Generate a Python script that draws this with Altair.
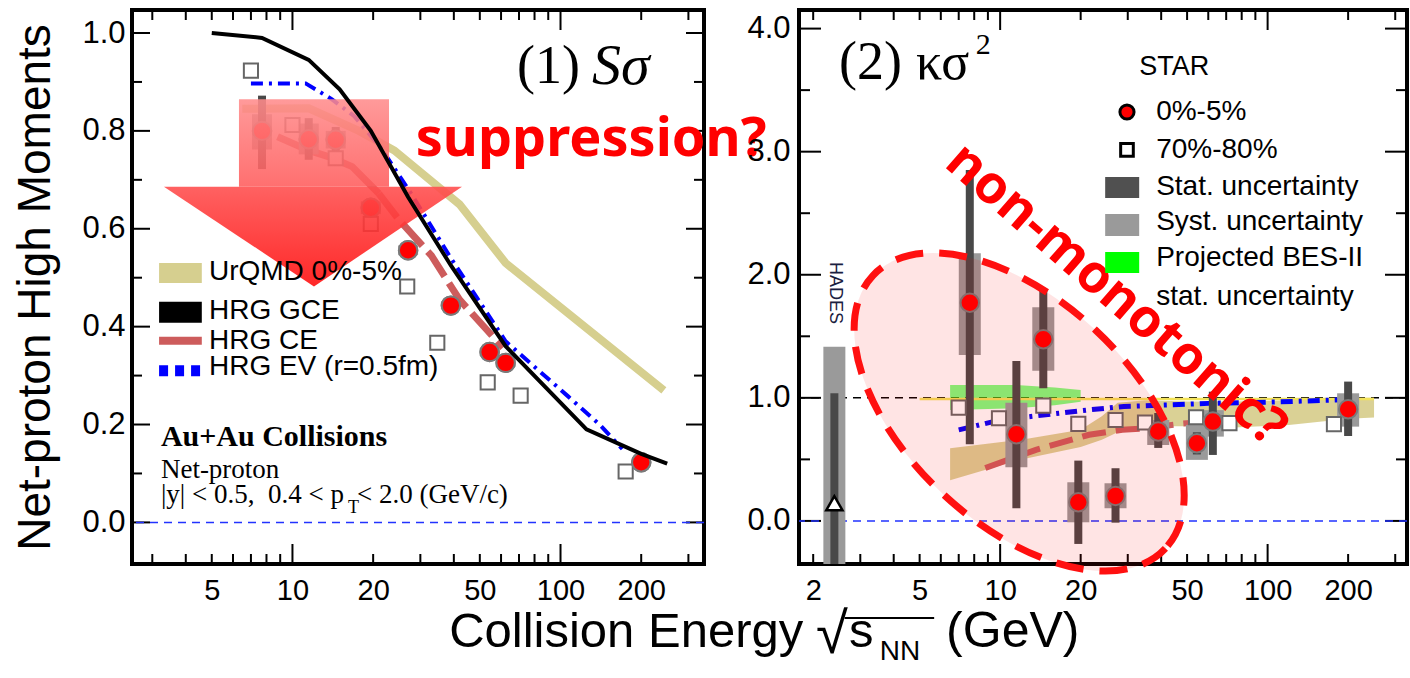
import altair as alt
import pandas as pd

# ------------------------------------------------------------------ data
energy = [7.7, 11.5, 14.5, 19.6, 27, 39, 54.4, 62.4, 200]

# panel (1)  S*sigma, 0-5% central
ss_c = [0.800, 0.783, 0.782, 0.643, 0.556, 0.443, 0.348, 0.326, 0.123]
ss_stat_lo = [0.722, 0.741, 0.758, 0.628, 0.546, 0.436, 0.340, 0.318, 0.118]
ss_stat_hi = [0.872, 0.826, 0.808, 0.660, 0.566, 0.450, 0.356, 0.334, 0.128]
ss_sys_lo = [0.762, 0.752, 0.764, 0.630, 0.546, 0.436, 0.340, 0.318, 0.118]
ss_sys_hi = [0.834, 0.815, 0.800, 0.656, 0.566, 0.450, 0.356, 0.334, 0.128]
# panel (1)  70-80% peripheral
ss_per_e = [7.0, 10.0, 14.5, 19.6, 26.8, 34.7, 53.5, 71, 175]
ss_per = [0.923, 0.812, 0.744, 0.610, 0.482, 0.367, 0.286, 0.259, 0.104]
# panel (1) models
urqmd1_e = [6.5, 11.5, 17.7, 24, 42, 62.4, 243]
urqmd1_v = [0.845, 0.846, 0.80, 0.76, 0.65, 0.53, 0.27]
gce1_e = [5, 7.7, 11.5, 15, 19.6, 27, 39, 62.4, 125, 200, 250]
gce1_v = [1.0, 0.99, 0.945, 0.885, 0.80, 0.665, 0.525, 0.36, 0.19, 0.14, 0.12]
ce1_e = [8.8, 11.5, 13.7, 16.7, 21, 25, 33, 42, 61]
ce1_v = [0.788, 0.76, 0.747, 0.727, 0.672, 0.618, 0.545, 0.455, 0.357]
ev1_e = [7, 11.2, 14, 17, 21.4, 28, 39, 62.4, 107, 140, 170]
ev1_v = [0.897, 0.897, 0.865, 0.83, 0.765, 0.668, 0.54, 0.37, 0.257, 0.2, 0.15]

# panel (2)  kappa*sigma^2, 0-5% central
kk_c = [1.773, 0.704, 1.476, 0.152, 0.203, 0.726, 0.631, 0.807, 0.907]
kk_stat_lo = [0.623, 0.103, 1.078, -0.187, -0.014, 0.593, 0.540, 0.536, 0.690]
kk_stat_hi = [2.851, 1.300, 1.877, 0.490, 0.428, 0.877, 0.720, 1.050, 1.132]
kk_sys_lo = [1.349, 0.436, 1.221, -0.011, 0.103, 0.617, 0.496, 0.685, 0.766]
kk_sys_hi = [2.175, 0.961, 1.736, 0.314, 0.306, 0.820, 0.780, 0.900, 1.037]
# panel (2)  70-80% peripheral
kk_per_e = [7.0, 9.9, 14.5, 19.6, 27, 34.8, 54, 72, 177]
kk_per = [0.920, 0.834, 0.937, 0.788, 0.820, 0.800, 0.842, 0.794, 0.786]
# HADES
hades_e = [2.4]
hades_v = [0.144]
hades_stat_lo = [-0.6]
hades_stat_hi = [1.037]
hades_sys_lo = [-0.6]
hades_sys_hi = [1.416]
# panel (2) models
urqmd2_e = [6.5, 12, 20, 24, 27.5, 35, 50, 75, 120, 200, 250]
urqmd2_hi = [0.59, 0.66, 0.74, 0.85, 0.96, 0.98, 0.97, 0.97, 0.98, 1.0, 1.0]
urqmd2_lo = [0.33, 0.50, 0.60, 0.66, 0.72, 0.77, 0.77, 0.76, 0.78, 0.83, 0.84]
bes2_e = [6.5, 11.5, 16, 20]
bes2_hi = [1.105, 1.105, 1.085, 1.064]
bes2_lo = [0.902, 0.915, 0.940, 0.969]
ce2_e = [8.8, 13.6, 21.5, 28.6, 36, 48, 62]
ce2_v = [0.43, 0.577, 0.70, 0.74, 0.755, 0.79, 0.81]
ev2_e = [7, 10, 14.5, 21, 29, 40, 60, 100, 200]
ev2_v = [0.74, 0.82, 0.86, 0.90, 0.93, 0.94, 0.955, 0.965, 0.985]
unity_e = [5, 250]
unity_v = [0.99, 0.99]

# axis ticks
x_major = [10, 100]
x_minor = [2, 3, 4, 5, 6, 7, 8, 9, 20, 30, 40, 50, 60, 70, 80, 90, 200, 300]
x_labels_1 = [5, 10, 20, 50, 100, 200]
x_labels_2 = [2, 5, 10, 20, 50, 100, 200]
y1_major = [0.0, 0.2, 0.4, 0.6, 0.8, 1.0]
y1_minor = [0.1, 0.3, 0.5, 0.7, 0.9]
y2_major = [0.0, 1.0, 2.0, 3.0, 4.0]
y2_minor = [0.5, 1.5, 2.5, 3.5]

# ------------------------------------------------------------------ setup
SANS = "Liberation Sans"
SERIF = "Liberation Serif"
BOLD = "Noto Sans"
W1, W2, H = 572, 608, 554
one = pd.DataFrame({"k": [0]})
NB = "\u00a0"

xs1 = alt.Scale(type="log", domain=[2.52, 343], nice=False)
ys1 = alt.Scale(domain=[-0.085, 1.047], nice=False, zero=False)
xs2 = alt.Scale(type="log", domain=[1.77, 332], nice=False)
ys2 = alt.Scale(domain=[-0.35, 4.151], nice=False, zero=False)

xaxis_common = dict(ticks=False, domain=False, grid=False, labelFontSize=29, labelPadding=12,
                    labelColor="black", labelFont=SANS, title=None, labelFlush=False, format="d")
yaxis_common = dict(ticks=False, domain=False, grid=False, labelFontSize=31,
                    labelColor="black", labelFont=SANS, format=".1f", labelFlush=False)

ax_x1 = alt.Axis(values=x_labels_1, **xaxis_common)
ax_y1 = alt.Axis(values=y1_major, labelPadding=7, title="Net-proton High Moments",
                 titleFontSize=46, titleFont=SANS, titleFontWeight="normal",
                 titleColor="black", titlePadding=22, **yaxis_common)
ax_x2 = alt.Axis(values=x_labels_2, **xaxis_common)
ax_y2 = alt.Axis(values=y2_major, labelPadding=9, title=None, **yaxis_common)

P1 = (xs1, ys1, ax_x1, ax_y1)
P2 = (xs2, ys2, ax_x2, ax_y2)


def X(f, p):
    return alt.X(f, type="quantitative", scale=p[0], axis=p[2])


def Y(f, p):
    return alt.Y(f, type="quantitative", scale=p[1], axis=p[3])


def XD(v, p):
    return alt.XDatum(v, type="quantitative", scale=p[0], axis=p[2])


def YD(v, p):
    return alt.YDatum(v, type="quantitative", scale=p[1], axis=p[3])


def text(t, x, y, p, size, font=SANS, **kw):
    return alt.Chart(one).mark_text(text=t, fontSize=size, font=font, **kw).encode(
        x=XD(x, p), y=YD(y, p))


def rect(x1, x2, y1, y2, p, color, **kw):
    return alt.Chart(one).mark_rect(color=color, **kw).encode(
        x=XD(x1, p), x2=alt.X2Datum(x2), y=YD(y1, p), y2=alt.Y2Datum(y2))


def hline(x1, x2, y, p, **kw):
    return alt.Chart(one).mark_rule(**kw).encode(
        x=XD(x1, p), x2=alt.X2Datum(x2), y=YD(y, p))


def frame_ticks(p, W, xL, ymaj, ymin, yL):
    out = []
    for vals, L in ((x_major, xL[0]), (x_minor, xL[1])):
        b = alt.Chart(pd.DataFrame({"t": vals})).mark_rule(color="black", strokeWidth=2, clip=True)
        out.append(b.encode(x=X("t", p), y=alt.value(H), y2=alt.value(H - L)))
        out.append(b.encode(x=X("t", p), y=alt.value(0), y2=alt.value(L)))
    for vals, L in ((ymaj, yL[0]), (ymin, yL[1])):
        b = alt.Chart(pd.DataFrame({"t": vals})).mark_rule(color="black", strokeWidth=2, clip=True)
        out.append(b.encode(y=Y("t", p), x=alt.value(0), x2=alt.value(L)))
        out.append(b.encode(y=Y("t", p), x=alt.value(W), x2=alt.value(W - L)))
    return out


def line(e, v, p, **kw):
    df = pd.DataFrame({"E": e, "v": v})
    return alt.Chart(df).mark_line(**kw).encode(x=X("E", p), y=Y("v", p))


def bars(e, lo, hi, p, width, color):
    df = pd.DataFrame({"E": e, "lo": lo, "hi": hi})
    return alt.Chart(df).mark_rule(strokeWidth=width, color=color, clip=True).encode(
        x=X("E", p), y=Y("lo", p), y2="hi")


def squares(e, v, p):
    df = pd.DataFrame({"E": e, "v": v})
    return alt.Chart(df).mark_point(shape="square", size=200, filled=True, fill="white",
                                    stroke="#666666", strokeWidth=2, opacity=1).encode(
        x=X("E", p), y=Y("v", p))


def central(e, v, p):
    df = pd.DataFrame({"E": e, "v": v})
    return alt.Chart(df).mark_point(shape="circle", size=340, filled=True, fill="#ff0000",
                                    stroke="#7a7a7a", strokeWidth=2, opacity=1).encode(
        x=X("E", p), y=Y("v", p))


def vgrad(c0, c1):
    return alt.Gradient(gradient="linear",
                        stops=[alt.GradientStop(color=c0, offset=0),
                               alt.GradientStop(color=c1, offset=1)],
                        x1=0, x2=0, y1=0, y2=1)


# ------------------------------------------------------------------ panel 1
# "suppression" arrow (shape vertices in data coordinates)
arrow_head = pd.DataFrame({"E": [3.315, 12.03, 42.9],
                           "top": [0.686, 0.686, 0.686],
                           "bot": [0.686, 0.482, 0.686]})
arrow_layers = [
    rect(6.316, 22.92, 0.686, 0.8646, P1, vgrad("#ff8c8c", "#ff5c5c"), opacity=0.88),
    alt.Chart(arrow_head).mark_area(color=vgrad("#ff5050", "#ff1010"), opacity=0.9).encode(
        x=X("E", P1), y=Y("top", P1), y2="bot"),
]

ce1 = pd.DataFrame({"E": ce1_e, "v": ce1_v})

left_layers = [central(energy, ss_c, P1)] + frame_ticks(P1, W1, (20, 10), y1_major, y1_minor, (18, 10)) + [
    alt.Chart(one).mark_rule(color="#2233ff", strokeDash=[8, 6], strokeWidth=1.5).encode(y=YD(0, P1)),
    line(urqmd1_e, urqmd1_v, P1, color="#d6cf8f", strokeWidth=8),
    alt.Chart(ce1).mark_line(color="#cd5c5c", strokeWidth=7).encode(
        x=X("E", P1), y=Y("v", P1)).transform_filter("datum.E <= 21"),
    alt.Chart(ce1).mark_line(color="#cd5c5c", strokeWidth=7, strokeDash=[30, 8]).encode(
        x=X("E", P1), y=Y("v", P1)).transform_filter("datum.E >= 21"),
    line(ev1_e, ev1_v, P1, color="#0000ff", strokeWidth=4, strokeDash=[12, 6, 3, 6]),
    bars(energy, ss_sys_lo, ss_sys_hi, P1, 20, "#9a9a9a"),
    bars(energy, ss_stat_lo, ss_stat_hi, P1, 8, "#484848"),
    squares(ss_per_e, ss_per, P1),
    central(energy, ss_c, P1),
] + arrow_layers + [
    line(gce1_e, gce1_v, P1, color="black", strokeWidth=4),
    # legend
    rect(3.18, 4.59, 0.489, 0.530, P1, "#d6cf8f"),
    rect(3.18, 4.59, 0.408, 0.451, P1, "black"),
    hline(3.18, 4.59, 0.371, P1, color="#cd5c5c", strokeWidth=8),
    hline(3.18, 4.59, 0.310, P1, color="#0000ff", strokeWidth=11, strokeDash=[9, 7]),
    text("UrQMD 0%-5%", 4.88, 0.511, P1, 28, align="left", baseline="middle"),
    text("HRG GCE", 4.88, 0.431, P1, 28, align="left", baseline="middle"),
    text("HRG CE", 4.88, 0.371, P1, 28, align="left", baseline="middle"),
    text("HRG EV (r=0.5fm)", 4.88, 0.317, P1, 28, align="left", baseline="middle"),
    # collision info
    text("Au+Au Collisions", 3.23, 0.174, P1, 30, font=SERIF, fontWeight="bold",
         align="left", baseline="middle"),
    text("Net-proton", 3.23, 0.107, P1, 27, font=SERIF, align="left", baseline="middle"),
    text("|y| < 0.5," + NB + NB + "0.4 < p", 3.23, 0.056, P1, 27, font=SERIF, align="left", baseline="middle"),
    text("T", 16.1, 0.030, P1, 18, font=SERIF, align="left", baseline="middle"),
    text("< 2.0 (GeV/c)", 17.4, 0.056, P1, 27, font=SERIF, align="left", baseline="middle"),
    # panel label
    text("(1)", 68.8, 0.931, P1, 54, font=SERIF, align="left", baseline="middle"),
    text("Sσ", 131, 0.931, P1, 58, font=SERIF, fontStyle="italic", align="left", baseline="middle"),
    # annotation
    text("suppression?", 130, 0.781, P1, 54, font=BOLD, fontWeight="bold", color="#ff0000",
         align="center", baseline="middle"),
]
left = alt.layer(*left_layers).properties(width=W1, height=H)

# ------------------------------------------------------------------ panel 2
ell_path = ("M 1 0 C 1 0.309 0.552 0.56 0 0.56 C -0.552 0.56 -1 0.309 -1 0 "
            "C -1 -0.309 -0.552 -0.56 0 -0.56 C 0.552 -0.56 1 -0.309 1 0 Z")

urqmd2 = pd.DataFrame({"E": urqmd2_e, "hi": urqmd2_hi, "lo": urqmd2_lo})
bes2 = pd.DataFrame({"E": bes2_e, "hi": bes2_hi, "lo": bes2_lo})

right_layers = [central(energy, kk_c, P2)] + frame_ticks(P2, W2, (20, 10), y2_major, y2_minor, (22, 11)) + [
    alt.Chart(one).mark_rule(color="#2233ff", strokeDash=[8, 6], strokeWidth=1.5).encode(y=YD(0, P2)),
    alt.Chart(one).mark_rule(color="black", strokeDash=[8, 6], strokeWidth=1.5).encode(y=YD(1, P2)),
    alt.Chart(urqmd2).mark_area(color="#d6cc8a", opacity=0.9).encode(
        x=X("E", P2), y=Y("hi", P2), y2="lo"),
    alt.Chart(bes2).mark_area(color="#00ff00", opacity=0.5).encode(
        x=X("E", P2), y=Y("hi", P2), y2="lo"),
    line(unity_e, unity_v, P2, color="#f3e35a", strokeWidth=2.5),
    line(ce2_e, ce2_v, P2, color="#cd5c5c", strokeWidth=6, strokeDash=[24, 10]),
    line(ev2_e, ev2_v, P2, color="#0000ff", strokeWidth=5, strokeDash=[12, 6, 3, 6]),
    bars(hades_e, hades_sys_lo, hades_sys_hi, P2, 22, "#9a9a9a"),
    bars(hades_e, hades_stat_lo, hades_stat_hi, P2, 8, "#484848"),
    alt.Chart(pd.DataFrame({"E": hades_e, "v": hades_v})).mark_point(
        shape="triangle-up", size=260, filled=True, fill="white", stroke="black",
        strokeWidth=2.5, opacity=1).encode(x=X("E", P2), y=Y("v", P2)),
    bars(energy, kk_sys_lo, kk_sys_hi, P2, 22, "#9a9a9a"),
    bars(energy, kk_stat_lo, kk_stat_hi, P2, 8, "#484848"),
    squares(kk_per_e, kk_per, P2),
    central(energy, kk_c, P2),
    # ellipse annotation
    alt.Chart(one).mark_point(shape=ell_path, size=160000, angle=43, filled=True,
                              fill="#ff0000", fillOpacity=0.106, stroke="#ff1010",
                              strokeOpacity=1, strokeWidth=7, strokeDash=[28, 16]).encode(
        x=XD(11.78, P2), y=YD(0.885, P2)),
    text("non-monotonic?", 27.1, 1.836, P2, 53, font=BOLD, fontWeight="bold",
         color="#ff0000", angle=41, align="center", baseline="middle"),
    text("HADES", 2.416, 1.852, P2, 18, angle=90, color="#1a2040",
         align="center", baseline="middle"),
    # panel label
    text("(2)", 2.5, 3.72, P2, 54, font=SERIF, align="left", baseline="middle"),
    text("κσ", 4.85, 3.72, P2, 52, font=SERIF, align="left", baseline="middle"),
    text("2", 8.1, 3.87, P2, 30, font=SERIF, align="left", baseline="middle"),
    # legend
    text("STAR", 33.1, 3.688, P2, 27, align="left", baseline="middle"),
    alt.Chart(one).mark_point(shape="circle", size=200, filled=True, fill="#ff0000",
                              stroke="black", strokeWidth=3, opacity=1).encode(
        x=XD(29.8, P2), y=YD(3.322, P2)),
    alt.Chart(one).mark_point(shape="square", size=160, filled=True, fill="white",
                              stroke="black", strokeWidth=3, opacity=1).encode(
        x=XD(29.8, P2), y=YD(3.014, P2)),
    rect(24.7, 33.1, 2.624, 2.795, P2, "#505050"),
    rect(24.7, 33.1, 2.315, 2.494, P2, "#9a9a9a"),
    rect(24.7, 33.1, 2.015, 2.185, P2, "#00ff00"),
    text("0%-5%", 38.3, 3.322, P2, 28, align="left", baseline="middle"),
    text("70%-80%", 38.3, 3.014, P2, 28, align="left", baseline="middle"),
    text("Stat. uncertainty", 38.3, 2.713, P2, 28, align="left", baseline="middle"),
    text("Syst. uncertainty", 38.3, 2.429, P2, 28, align="left", baseline="middle"),
    text("Projected BES-II", 38.3, 2.136, P2, 28, align="left", baseline="middle"),
    text("stat. uncertainty", 38.3, 1.820, P2, 28, align="left", baseline="middle"),
    # shared x-axis title
    text("Collision Energy", 0.0871, -1.0236, P2, 49, align="left", baseline="alphabetic"),
    text("√", 2.05, -1.07, P2, 58, align="left", baseline="alphabetic"),
    hline(2.62, 5.666, -0.788, P2, color="black", strokeWidth=2),
    text("s", 2.72, -1.0236, P2, 49, align="left", baseline="alphabetic"),
    text("NN", 3.55, -1.129, P2, 28, align="left", baseline="alphabetic"),
    text("(GeV)", 6.28, -1.0236, P2, 50, align="left", baseline="alphabetic"),
]
right = alt.layer(*right_layers).properties(width=W2, height=H)

chart = (
    alt.hconcat(left, right, spacing=95, bounds="flush")
    .properties(padding={"left": 10, "top": 8, "right": 0, "bottom": 0}, background="white")
    .configure(font=SANS)
    .configure_view(stroke="black", strokeWidth=4)
)

chart.save("out.html", embed_options={"renderer": "svg", "actions": False})
